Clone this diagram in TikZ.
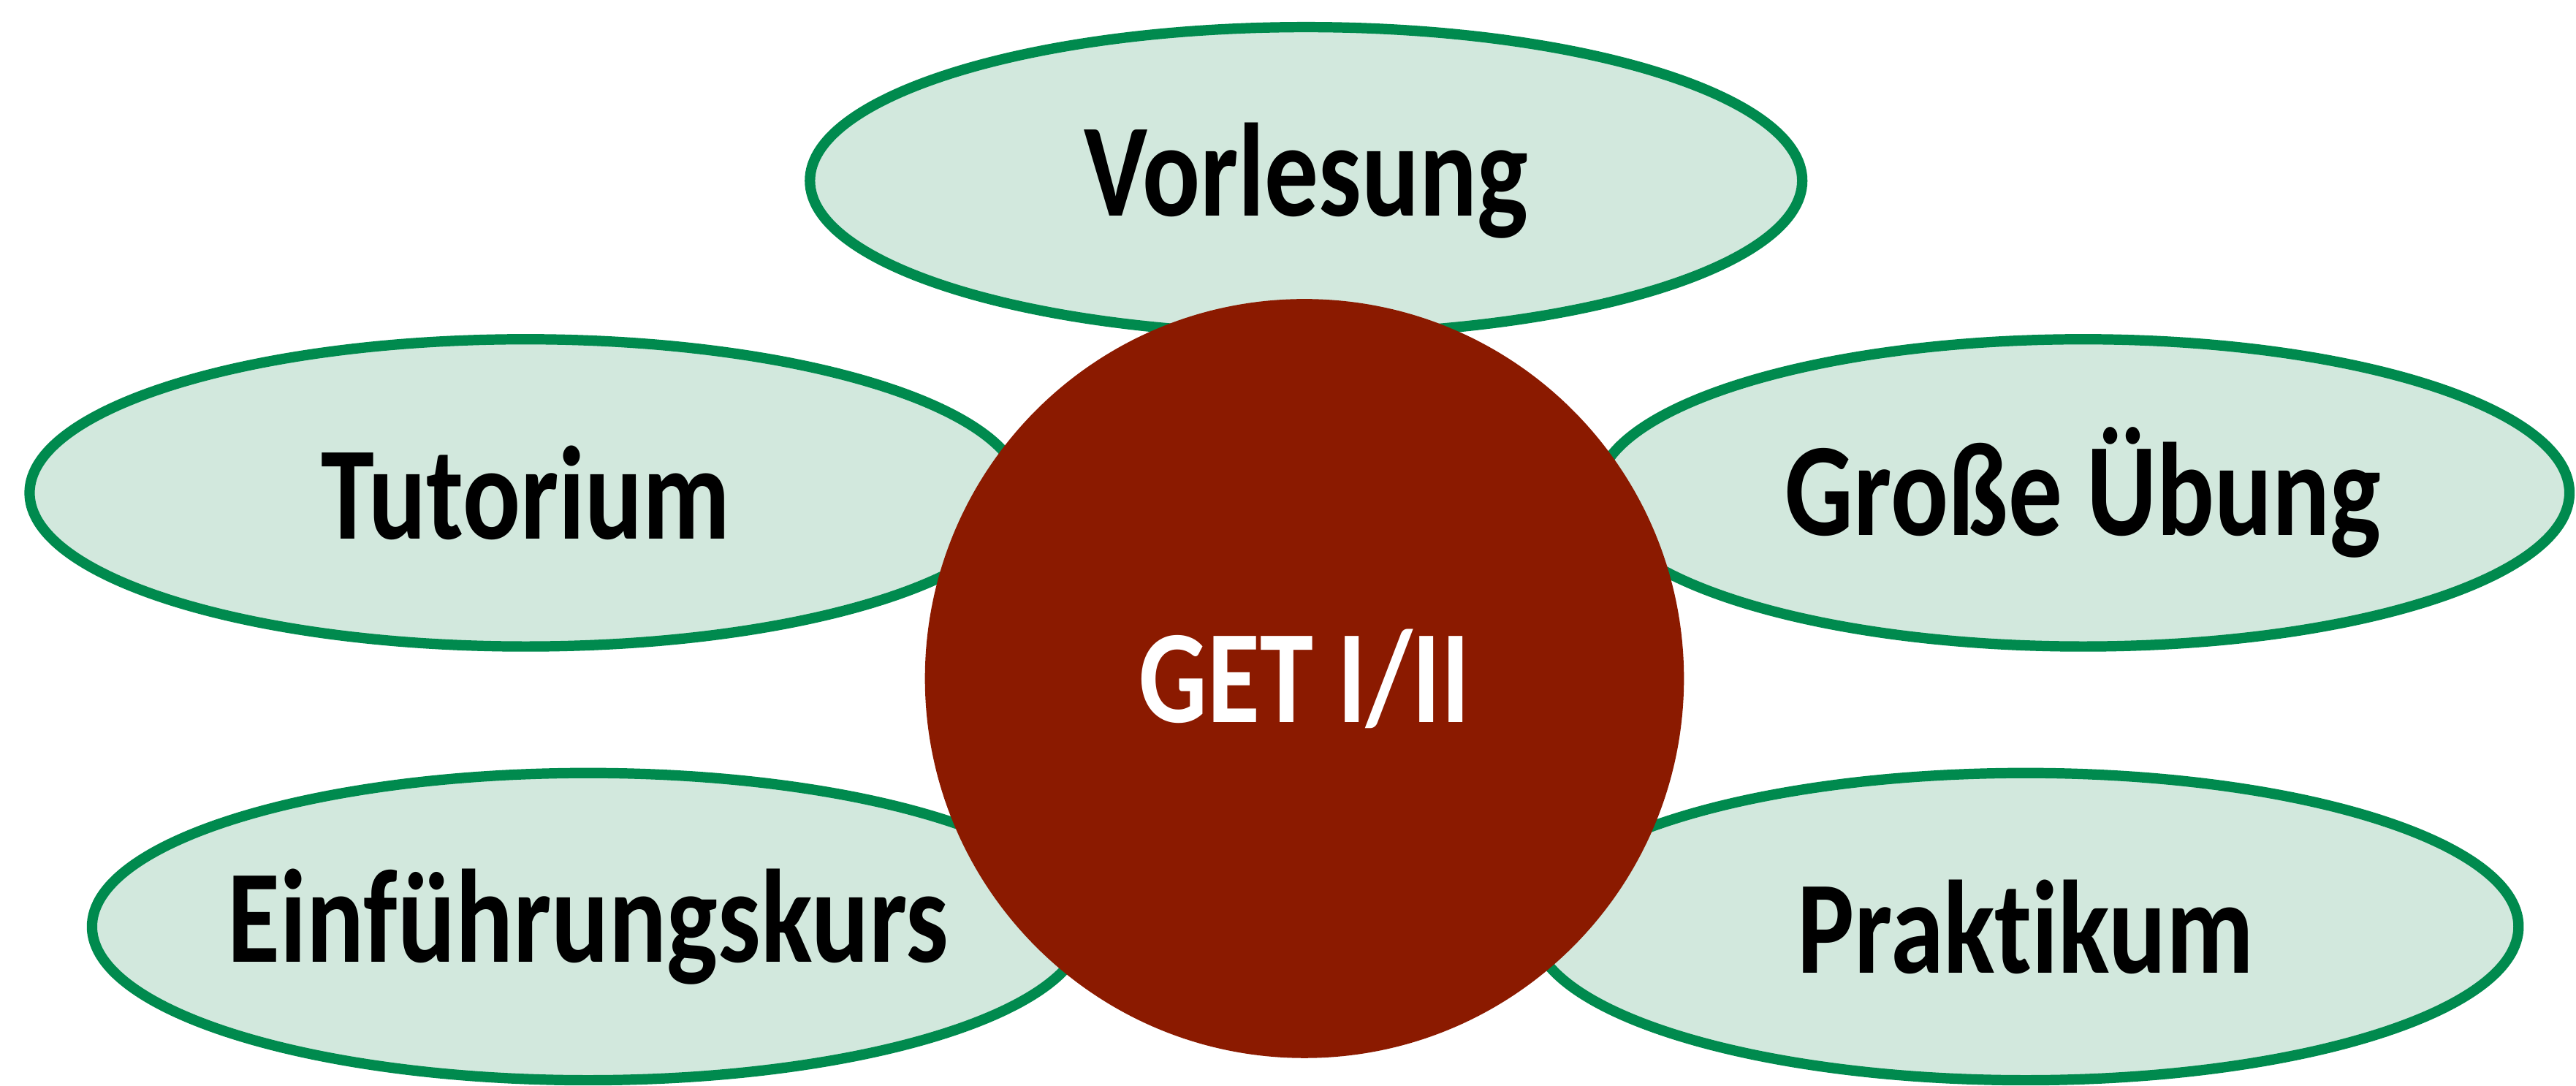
\documentclass[tikz,border=0pt]{standalone}
\usepackage{fontspec}
\setsansfont{Carlito}[FakeStretch=0.81,Ligatures={NoCommon,NoContextual}]
\usetikzlibrary{
	shapes.geometric,
	positioning,
}
\definecolor{MyGreen}{HTML}{008A4E}
\definecolor{MyMint}{HTML}{D2E8DD}
\definecolor{MyRed}{HTML}{8B1A00}
\tikzset{every picture/.style={/utils/exec={\sffamily\bfseries}}}

\begin{document}
\begin{tikzpicture} [
            every node/.style={align=center},
            form/.style={ellipse,draw=MyGreen,line width=1.8pt,fill=MyMint,inner ysep=0pt,inner xsep=-5mm,minimum width=60.4mm,minimum height=18.7mm,font=\fontsize{23}{26}\selectfont},
            core/.style={circle,fill=MyRed,text=white,inner sep=0pt,minimum size=46.2mm,font=\fontsize{23}{26}\selectfont}
        ]
        \useasboundingbox (0,0) rectangle (15.68,6.61);
        \node at (7.95,5.51) [form] (vorlesung) {Vorlesung};
        
        \node at (3.20,3.61) [form] (tutorium) {Tutorium};
        
        \node at (12.68,3.61) [form,minimum width=59.2mm] (uebung) {Große Übung};
        
        \node at (3.58,0.97) [form] (einfuehrung) {Einführungskurs};
        
        \node at (12.33,0.97) [form,minimum width=60mm] (praktikum) {Praktikum};
        
        \node at (7.94,2.48) [core] (get) {GET I/II};
    \end{tikzpicture}
\end{document}
